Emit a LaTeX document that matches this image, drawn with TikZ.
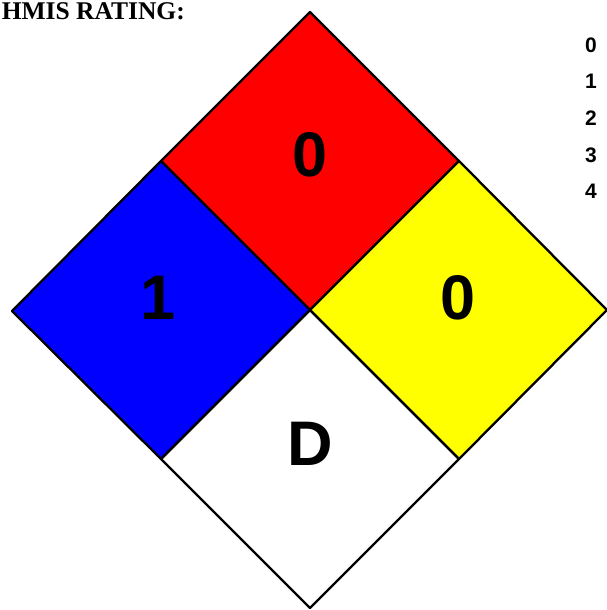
\documentclass[tikz,border=0pt]{standalone}
\usepackage{fontspec}
\setmainfont{Liberation Sans}
\newfontfamily\hdrfont{Liberation Serif}
\definecolor{hred}{RGB}{255,0,0}
\definecolor{hblue}{RGB}{0,0,255}
\definecolor{hyellow}{RGB}{255,255,0}
\begin{document}
\begin{tikzpicture}[x=1pt,y=-1pt,
  quad/.style={draw=black,line width=2.3pt,line join=round},
  bignum/.style={font=\fontsize{63}{63}\selectfont\bfseries,inner sep=0pt},
  legend/.style={font=\fontsize{21}{21}\selectfont\bfseries,inner sep=0pt},
  hdr/.style={font=\hdrfont\fontsize{25.5}{25.5}\selectfont\bfseries,inner sep=0pt,anchor=base east}]
\useasboundingbox (0,0) rectangle (607,610);
\coordinate (C) at (310,310);
\coordinate (T) at (310,12);
\coordinate (L) at (12,311);
\coordinate (R) at (607,310);
\coordinate (B) at (310,608);
\coordinate (TL) at (161,161);
\coordinate (TR) at (459,161);
\coordinate (BL) at (161,459);
\coordinate (BR) at (459,459);
\fill[white] (C) -- (BL) -- (B) -- (BR) -- cycle;
\filldraw[quad,fill=hred] (T) -- (TR) -- (C) -- (TL) -- cycle;
\filldraw[quad,fill=hblue] (TL) -- (C) -- (BL) -- (L) -- cycle;
\filldraw[quad,fill=hyellow] (TR) -- (R) -- (BR) -- (C) -- cycle;
\draw[quad] (C) -- (BL) -- (B) -- (BR) -- cycle;
\node[bignum] (n1) at (310,155) {0};
\node[bignum] (n2) at (158,298) {1};
\node[bignum] (n3) at (458,298) {0};
\node[bignum] (n4) at (310,444) {D};
\node[hdr] (h) at (185,20) {HMIS RATING:};
\node[legend] (l0) at (591,45) {0};
\node[legend] (l1) at (591,81) {1};
\node[legend] (l2) at (591,118) {2};
\node[legend] (l3) at (591,155) {3};
\node[legend] (l4) at (591,191) {4};
\end{tikzpicture}
\end{document}
